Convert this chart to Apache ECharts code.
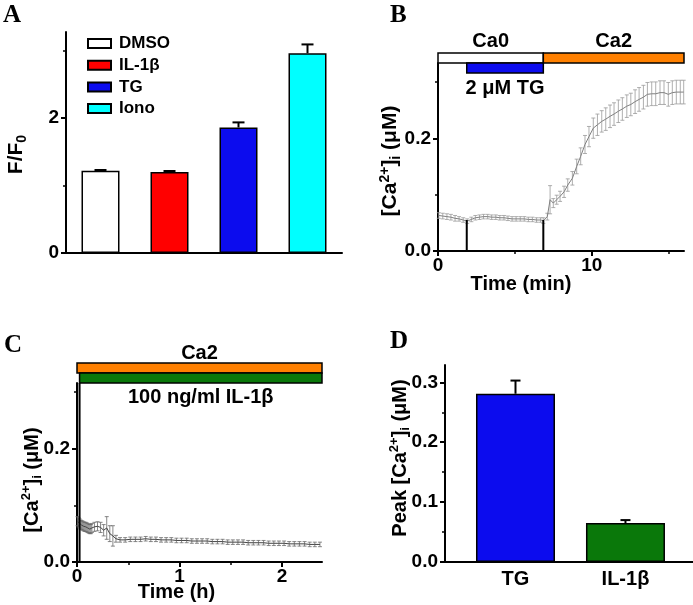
<!DOCTYPE html>
<html><head><meta charset="utf-8">
<script src="https://cdn.jsdelivr.net/npm/echarts@6/dist/echarts.min.js"></script>
<style>html,body{margin:0;padding:0;background:#fff}#c{width:693px;height:605px}</style>
</head><body><div id="c"></div>
<script>
// ---------- Panel A data ----------
const aCategories = ['DMSO', 'IL-1β', 'TG', 'Iono'];
const aMeans = [1.22, 1.20, 1.86, 2.96];
const aErrors = [0.01, 0.015, 0.075, 0.13];
const aYTicks = [0, 2];
const aYMinor = [1, 3];

// ---------- Panel B data ----------
const bTime = [0.05, 0.31, 0.58, 0.84, 1.11, 1.37, 1.64, 1.90, 2.17, 2.43, 2.70, 2.96, 3.23, 3.49, 3.76, 4.02, 4.29, 4.55, 4.82, 5.08, 5.35, 5.61, 5.88, 6.14, 6.41, 6.67, 6.85,
  7.11, 7.29, 7.50, 7.72, 7.94, 8.20, 8.44, 8.74, 9.02, 9.28, 9.56, 9.82, 10.10, 10.37, 10.65, 10.91, 11.19, 11.45, 11.73, 11.99, 12.28, 12.54, 12.82, 13.08, 13.36, 13.62, 13.90, 14.16, 14.44, 14.70, 14.98, 15.24, 15.50, 15.76, 15.98];
const bMean = [0.063, 0.062, 0.061, 0.060, 0.058, 0.057, 0.055, 0.053, 0.056, 0.059, 0.060, 0.061, 0.061, 0.060, 0.060, 0.059, 0.059, 0.058, 0.057, 0.057, 0.057, 0.057, 0.056, 0.056, 0.055, 0.055, 0.054,
  0.061, 0.091, 0.085, 0.091, 0.097, 0.105, 0.117, 0.129, 0.150, 0.168, 0.189, 0.203, 0.218, 0.224, 0.230, 0.234, 0.239, 0.243, 0.248, 0.252, 0.257, 0.260, 0.265, 0.269, 0.273, 0.278, 0.279, 0.279, 0.281, 0.281, 0.278, 0.281, 0.282, 0.282, 0.282];
const bErr = [0.005, 0.005, 0.005, 0.005, 0.005, 0.004, 0.004, 0.004, 0.004, 0.004, 0.004, 0.004, 0.004, 0.004, 0.004, 0.004, 0.004, 0.004, 0.004, 0.004, 0.004, 0.004, 0.004, 0.004, 0.004, 0.004, 0.005,
  0.006, 0.025, 0.008, 0.008, 0.009, 0.010, 0.011, 0.012, 0.013, 0.015, 0.016, 0.018, 0.018, 0.019, 0.019, 0.020, 0.020, 0.020, 0.020, 0.020, 0.020, 0.020, 0.021, 0.021, 0.021, 0.021, 0.021, 0.021, 0.021, 0.021, 0.021, 0.021, 0.021, 0.021, 0.021];
const bXTicks = [0, 10];
const bXMinor = [5, 15];
const bYTicks = [0, 0.2];
const bYMinor = [0.1, 0.3];
const bEventTime = [1.87, 6.85];
const bEventTop = [0.055, 0.055];
const bPeriods = ['Ca0', 'Ca2', '2 μM TG'];
const bPeriodStart = [0, 6.85, 1.87];
const bPeriodEnd = [6.85, 16, 6.85];

// ---------- Panel C data ----------
const cTime = [0.005, 0.015, 0.025, 0.035, 0.045, 0.055, 0.065, 0.075, 0.085, 0.095, 0.105, 0.115, 0.125, 0.135, 0.145,
  0.17, 0.20, 0.23, 0.26, 0.29, 0.32, 0.35, 0.38, 0.42,
  0.47, 0.52, 0.57, 0.62, 0.67, 0.72, 0.77, 0.82, 0.87, 0.92, 0.97, 1.02, 1.07, 1.12, 1.17, 1.22, 1.27, 1.32, 1.37, 1.42,
  1.47, 1.52, 1.57, 1.62, 1.67, 1.72, 1.77, 1.82, 1.87, 1.92, 1.97, 2.02, 2.07, 2.12, 2.17, 2.22, 2.27, 2.32, 2.37];
const cMean = [0.072, 0.070, 0.068, 0.066, 0.065, 0.064, 0.063, 0.062, 0.062, 0.061, 0.060, 0.059, 0.058, 0.058, 0.060,
  0.062, 0.063, 0.061, 0.056, 0.060, 0.050, 0.046, 0.041, 0.039,
  0.039, 0.040, 0.040, 0.040, 0.041, 0.040, 0.040, 0.039, 0.039, 0.039, 0.038, 0.038, 0.038, 0.037, 0.037, 0.037, 0.037, 0.036, 0.036, 0.036,
  0.035, 0.035, 0.035, 0.035, 0.034, 0.034, 0.034, 0.034, 0.033, 0.033, 0.033, 0.033, 0.032, 0.032, 0.032, 0.032, 0.031, 0.031, 0.031];
const cErr = [0.008, 0.008, 0.008, 0.008, 0.008, 0.008, 0.008, 0.008, 0.008, 0.008, 0.008, 0.008, 0.008, 0.008, 0.008,
  0.008, 0.008, 0.009, 0.010, 0.020, 0.014, 0.018, 0.006, 0.004,
  0.004, 0.004, 0.004, 0.004, 0.004, 0.004, 0.004, 0.004, 0.004, 0.004, 0.004, 0.004, 0.004, 0.004, 0.004, 0.004, 0.004, 0.004, 0.004, 0.004,
  0.004, 0.004, 0.004, 0.004, 0.004, 0.004, 0.004, 0.004, 0.004, 0.004, 0.004, 0.004, 0.004, 0.004, 0.004, 0.004, 0.004, 0.004, 0.004];
const cXTicks = [0, 1, 2];
const cXMinor = [0.5, 1.5];
const cYTicks = [0, 0.2];
const cYMinor = [0.1, 0.3];
const cEventTime = [0.025];
const cEventTop = [0.3157];
const cPeriods = ['Ca2', '100 ng/ml IL-1β'];
const cPeriodStart = [0, 0.025];
const cPeriodEnd = [2.39, 2.39];

// ---------- Panel D data ----------
const dCategories = ['TG', 'IL-1β'];
const dPositions = [1, 2];
const dMeans = [0.281, 0.065];
const dErrors = [0.022, 0.005];
const dYTicks = [0, 0.1, 0.2, 0.3];
const dYMinor = [0.05, 0.15, 0.25];

// ---------- styles ----------
const FONT = '"Liberation Sans", Arial, sans-serif';
const aColors = ['#ffffff', '#ff0000', '#0c0cee', '#00ffff'];
const dColors = ['#0c0cee', '#0a780a'];
const bPeriodStyle = [
  { row: 0, fill: '#ffffff', side: 'above' },
  { row: 0, fill: '#ff8000', side: 'above' },
  { row: 1, fill: '#0c0cee', side: 'below' }
];
const cPeriodStyle = [
  { row: 0, fill: '#ff8000', side: 'above' },
  { row: 1, fill: '#0a780a', side: 'below' }
];
const labelStyle = { fontFamily: FONT, fontWeight: 'bold', fontSize: 19, color: '#000' };
function nameStyle(size, pad) {
  const small = Math.round(size * 0.65);
  return {
    fontFamily: FONT, fontWeight: 'bold', fontSize: size, lineHeight: size + 4, color: '#000', padding: pad,
    rich: {
      sup: { fontFamily: FONT, fontWeight: 'bold', fontSize: small, verticalAlign: 'top', color: '#000' },
      sub: { fontFamily: FONT, fontWeight: 'bold', fontSize: small, verticalAlign: 'bottom', color: '#000' }
    }
  };
}
const axisLineStyle = { show: true, lineStyle: { color: '#000', width: 2 } };

function mainY(grid, max, ticks, fmt, name, gap, size, pad) {
  return {
    type: 'value', gridIndex: grid, min: 0, max: max, position: 'left',
    axisLine: axisLineStyle, splitLine: { show: false },
    axisTick: { show: true, length: 5, customValues: ticks, lineStyle: { color: '#000', width: 2 } },
    axisLabel: Object.assign({ customValues: ticks, margin: 7, formatter: fmt }, labelStyle),
    name: name, nameLocation: 'middle', nameRotate: 90, nameGap: gap, nameMoveOverlap: false,
    nameTextStyle: nameStyle(size, pad)
  };
}
function minorY(grid, max, ticks) {
  return {
    type: 'value', gridIndex: grid, min: 0, max: max, position: 'left', offset: 0,
    axisLine: { show: false }, splitLine: { show: false }, axisLabel: { show: false },
    axisTick: { show: true, length: 3, customValues: ticks, lineStyle: { color: '#000', width: 1.5 } }
  };
}
function mainX(grid, min, max, ticks, fmt, name, gap, pad) {
  return {
    type: 'value', gridIndex: grid, min: min, max: max, position: 'bottom',
    axisLine: axisLineStyle, splitLine: { show: false },
    axisTick: { show: true, length: 5, customValues: ticks, lineStyle: { color: '#000', width: 2 } },
    axisLabel: Object.assign({ customValues: ticks, margin: 5, formatter: fmt }, labelStyle),
    name: name, nameLocation: 'middle', nameGap: gap, nameMoveOverlap: false,
    nameTextStyle: nameStyle(20, pad)
  };
}
function minorX(grid, min, max, ticks) {
  return {
    type: 'value', gridIndex: grid, min: min, max: max, position: 'bottom', offset: 0,
    axisLine: { show: false }, splitLine: { show: false }, axisLabel: { show: false },
    axisTick: { show: true, length: 3, customValues: ticks, lineStyle: { color: '#000', width: 1.5 } }
  };
}
function errorRender(capHalf, color, width, twoSided) {
  return function (params, api) {
    const x = api.value(0), m = api.value(1), e = api.value(2);
    const hi = api.coord([x, m + e]);
    const lo = api.coord([x, twoSided ? m - e : m]);
    const st = { stroke: color, lineWidth: width };
    const ch = [
      { type: 'line', shape: { x1: hi[0], y1: hi[1], x2: lo[0], y2: lo[1] }, style: st },
      { type: 'line', shape: { x1: hi[0] - capHalf, y1: hi[1], x2: hi[0] + capHalf, y2: hi[1] }, style: st }
    ];
    if (twoSided) ch.push({ type: 'line', shape: { x1: lo[0] - capHalf, y1: lo[1], x2: lo[0] + capHalf, y2: lo[1] }, style: st });
    return { type: 'group', children: ch };
  };
}
function eventRender(params, api) {
  const a = api.coord([api.value(0), 0]);
  const b = api.coord([api.value(0), api.value(1)]);
  return { type: 'line', shape: { x1: a[0], y1: a[1], x2: b[0], y2: b[1] }, style: { stroke: '#000', lineWidth: 2 } };
}
function periodRender(names, styles, rowOffsets, aboveGap, belowGap) {
  return function (params, api) {
    const i = params.dataIndex;
    const s = styles[i];
    const x0 = api.coord([api.value(0), 0])[0];
    const x1 = api.coord([api.value(1), 0])[0];
    const top = params.coordSys.y + rowOffsets[s.row];
    const ty = s.side === 'above' ? top - aboveGap : top + 10 + belowGap;
    return {
      type: 'group', children: [
        { type: 'rect', shape: { x: x0, y: top, width: x1 - x0, height: 10 }, style: { fill: s.fill, stroke: '#000', lineWidth: 1.5 } },
        { type: 'text', style: { x: (x0 + x1) / 2, y: ty, text: names[i], font: 'bold 20px ' + FONT, fill: '#000', align: 'center', verticalAlign: 'middle' } }
      ]
    };
  };
}

const fmt1 = v => v.toFixed(1);
const fmt0 = v => String(v);

const series = [];
aCategories.forEach((name, k) => {
  series.push({
    type: 'bar', name: name, xAxisIndex: 0, yAxisIndex: 0, barWidth: 38, barGap: '-100%',
    data: aMeans.map((v, i) => (i === k ? v : '-')),
    itemStyle: { color: aColors[k], borderColor: '#000', borderWidth: 1.5 }
  });
});
series.push({
  type: 'custom', xAxisIndex: 0, yAxisIndex: 0, z: 5,
  renderItem: errorRender(6, '#000', 2, false),
  data: aMeans.map((v, i) => [i, v, aErrors[i]])
});
// B
series.push({
  type: 'line', xAxisIndex: 1, yAxisIndex: 2, symbol: 'none', z: 3,
  lineStyle: { color: '#808080', width: 1 },
  data: bTime.map((t, i) => [t, bMean[i]])
});
series.push({
  type: 'custom', xAxisIndex: 1, yAxisIndex: 2, z: 3,
  renderItem: errorRender(2, '#9a9a9a', 0.8, true),
  data: bTime.map((t, i) => [t, bMean[i], bErr[i]])
});
series.push({
  type: 'custom', xAxisIndex: 1, yAxisIndex: 2, z: 6,
  renderItem: eventRender,
  data: bEventTime.map((t, i) => [t, bEventTop[i]])
});
series.push({
  type: 'custom', xAxisIndex: 1, yAxisIndex: 2, z: 7, clip: false,
  renderItem: periodRender(bPeriods, bPeriodStyle, [-10, 0], 11.5, 15),
  data: bPeriods.map((n, i) => [bPeriodStart[i], bPeriodEnd[i]])
});
// C
series.push({
  type: 'line', xAxisIndex: 3, yAxisIndex: 4, symbol: 'none', z: 3,
  lineStyle: { color: '#444', width: 1 },
  data: cTime.map((t, i) => [t, cMean[i]])
});
series.push({
  type: 'custom', xAxisIndex: 3, yAxisIndex: 4, z: 3,
  renderItem: errorRender(2, '#6a6a6a', 0.8, true),
  data: cTime.map((t, i) => [t, cMean[i], cErr[i]])
});
series.push({
  type: 'custom', xAxisIndex: 3, yAxisIndex: 4, z: 6,
  renderItem: eventRender,
  data: cEventTime.map((t, i) => [t, cEventTop[i]])
});
series.push({
  type: 'custom', xAxisIndex: 3, yAxisIndex: 4, z: 7, clip: false,
  renderItem: periodRender(cPeriods, cPeriodStyle, [-20, -10], 10, 14),
  data: cPeriods.map((n, i) => [cPeriodStart[i], cPeriodEnd[i]])
});
// D
series.push({
  type: 'bar', xAxisIndex: 5, yAxisIndex: 6, barWidth: 79,
  data: dPositions.map((p, i) => ({ value: [p, dMeans[i]], itemStyle: { color: dColors[i] } })),
  itemStyle: { borderColor: '#000', borderWidth: 1.5 }
});
series.push({
  type: 'custom', xAxisIndex: 5, yAxisIndex: 6, z: 5,
  renderItem: errorRender(5, '#000', 2, false),
  data: dPositions.map((p, i) => [p, dMeans[i], dErrors[i]])
});

const letter = (t, x, y) => ({ type: 'text', left: x, top: y, style: { text: t, font: 'bold 25px "Liberation Serif", "Times New Roman", serif', fill: '#000' } });

const option = {
  animation: false,
  backgroundColor: '#fff',
  grid: [
    { left: 66, top: 32, width: 276, height: 221, containLabel: false, outerBoundsMode: 'none' },
    { left: 438, top: 63, width: 246, height: 188, containLabel: false, outerBoundsMode: 'none' },
    { left: 77, top: 383, width: 245, height: 179, containLabel: false, outerBoundsMode: 'none' },
    { left: 445, top: 365, width: 248, height: 197, containLabel: false, outerBoundsMode: 'none' }
  ],
  legend: {
    orient: 'vertical', left: 87, top: 35, padding: 0, itemWidth: 23, itemHeight: 9, itemGap: 4.7,
    icon: 'rect', data: aCategories,
    textStyle: { fontFamily: FONT, fontWeight: 'bold', fontSize: 17, color: '#000', lineHeight: 17, padding: [0, 0, 0, 3] }
  },
  xAxis: [
    { type: 'category', gridIndex: 0, data: aCategories, axisLine: axisLineStyle, axisTick: { show: false }, axisLabel: { show: false } },
    mainX(1, 0, 16, bXTicks, fmt0, 'Time (min)', 21, [0, 80, 0, 0]),
    minorX(1, 0, 16, bXMinor),
    mainX(2, 0, 2.39, cXTicks, fmt0, 'Time (h)', 18, [0, 46, 0, 0]),
    minorX(2, 0, 2.39, cXMinor),
    {
      type: 'value', gridIndex: 3, min: 0.359, max: 2.614, position: 'bottom',
      axisLine: axisLineStyle, splitLine: { show: false }, axisTick: { show: false },
      axisLabel: Object.assign({ customValues: dPositions, margin: 7, formatter: v => dCategories[dPositions.indexOf(Math.round(v))] }, labelStyle, { fontSize: 20 })
    }
  ],
  yAxis: [
    mainY(0, 3.274, aYTicks, fmt0, 'F/F{sub|0}', 37, 21, [0, 24, 0, 0]),
    minorY(0, 3.274, aYMinor),
    mainY(1, 0.3336, bYTicks, fmt1, '[Ca{sup|2+}]{sub|i} (μM)', 35, 21, [0, 8, 0, 0]),
    minorY(1, 0.3336, bYMinor),
    mainY(2, 0.3157, cYTicks, fmt1, '[Ca{sup|2+}]{sub|i} (μM)', 33, 20, [0, 15, 0, 0]),
    minorY(2, 0.3157, cYMinor),
    mainY(3, 0.329, dYTicks, fmt1, 'Peak [Ca{sup|2+}]{sub|i} (μM)', 33, 20, [0, 0, 0, 11]),
    minorY(3, 0.329, dYMinor)
  ],
  series: series,
  graphic: [letter('A', 3, 3), letter('B', 390, 3), letter('C', 4, 333), letter('D', 390, 329)]
};
const chart = echarts.init(document.getElementById('c'), null, { renderer: 'canvas' });
chart.setOption(option);
</script>
</body></html>
